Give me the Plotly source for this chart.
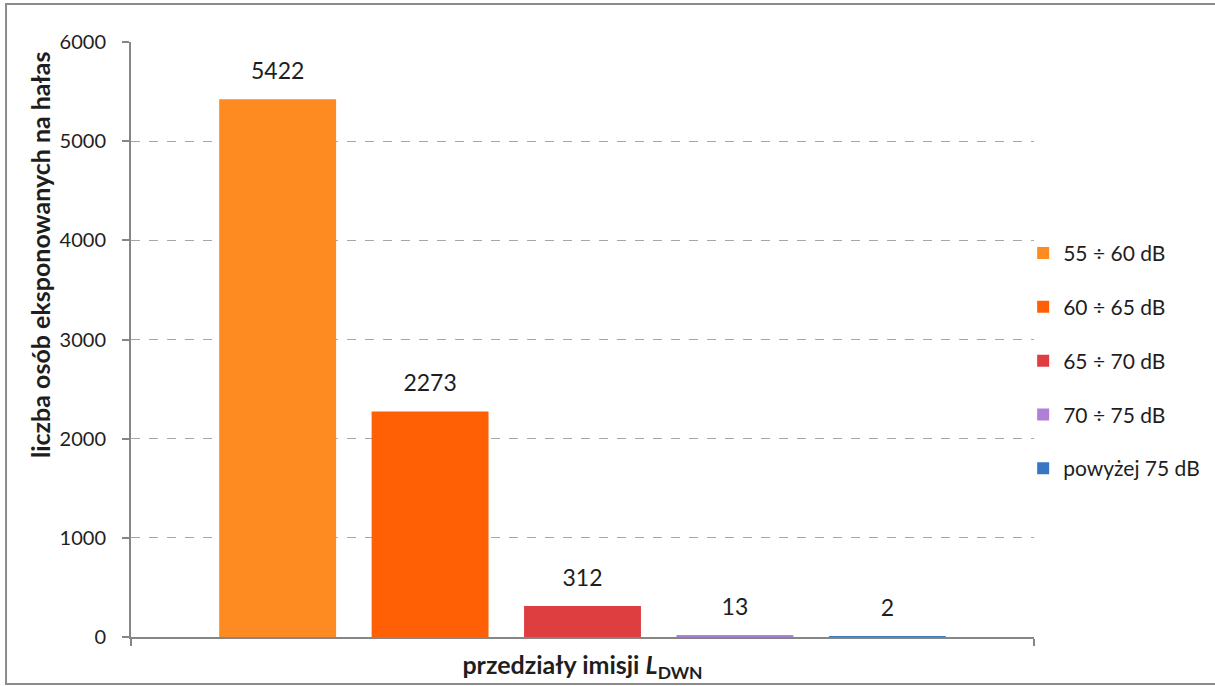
import plotly.graph_objects as go

series_names = ["55 ÷ 60 dB", "60 ÷ 65 dB", "65 ÷ 70 dB", "70 ÷ 75 dB", "powyżej 75 dB"]
series_values = [5422, 2273, 312, 13, 2]
series_colors = ["#FE8B22", "#FF5F05", "#DF3E41", "#B07FD8", "#3A75C4"]
category = ["LDWN"]

FONT = "Lato"
TXT = "#1e1e1e"

fig = go.Figure()
for i, (name, val, col) in enumerate(zip(series_names, series_values, series_colors)):
    fig.add_trace(go.Bar(
        x=category, y=[val], name=name, marker=dict(color=col, line=dict(width=0)),
        offsetgroup=f"g{i}", legendgroup=f"g{i}", hoverinfo="name+y",
    ))
for i, val in enumerate(series_values):
    fig.add_trace(go.Scatter(
        x=category, y=[val], mode="markers+text", text=[str(val)],
        textposition="top center", offsetgroup=f"g{i}", legendgroup=f"g{i}",
        marker=dict(size=22, opacity=0), showlegend=False, cliponaxis=False,
        textfont=dict(family=FONT, size=23, color=TXT), hoverinfo="skip",
    ))

fig.update_layout(
    width=1215, height=686,
    margin=dict(l=131, r=181, t=42, b=49, autoexpand=False),
    paper_bgcolor="white", plot_bgcolor="white",
    barmode="group", bargap=0.156, bargroupgap=0.233,
    scattermode="group", scattergap=0.156,
    font=dict(family=FONT, size=20, color=TXT),
    showlegend=True,
    legend=dict(x=0.988, xanchor="left", y=0.464, yanchor="middle",
                font=dict(family=FONT, size=21, color=TXT),
                tracegroupgap=23.5, traceorder="grouped", itemwidth=30,
                bgcolor="rgba(0,0,0,0)"),
    xaxis=dict(showticklabels=False, ticks="outside", tickson="boundaries", ticklen=7,
               tickcolor="#868686", tickwidth=2, automargin=False,
               showline=True, linecolor="#868686", linewidth=2, showgrid=False,
               title=dict(text="<b>przedziały imisji <i>L</i><sub>DWN</sub></b>",
                          font=dict(family=FONT, size=25, color=TXT), standoff=18)),
    yaxis=dict(range=[0, 6000], dtick=1000, tick0=0, ticks="outside", ticklen=7,
               tickcolor="#868686", tickwidth=2, showline=True, linecolor="#868686",
               linewidth=2, showgrid=True, gridcolor="#A6A6A6", griddash="dash",
               gridwidth=1, zeroline=False, ticklabelstandoff=12, automargin=False,
               tickfont=dict(family=FONT, size=20, color=TXT)),
    annotations=[dict(text="<b>liczba osób eksponowanych na hałas</b>", textangle=-90,
                      xref="paper", yref="paper", x=-0.1008, y=0.642,
                      xanchor="center", yanchor="middle", showarrow=False,
                      font=dict(family=FONT, size=25, color=TXT))],
)

fig.add_shape(type="rect", xref="paper", yref="paper",
              x0=-0.1384, x1=2.0, y0=-0.079, y1=1.0639,
              line=dict(color="#8C8C8C", width=2), fillcolor="rgba(0,0,0,0)", layer="below")

fig.write_html("out.html", config={"displayModeBar": False},
               post_script="document.body.style.margin='0px';")
